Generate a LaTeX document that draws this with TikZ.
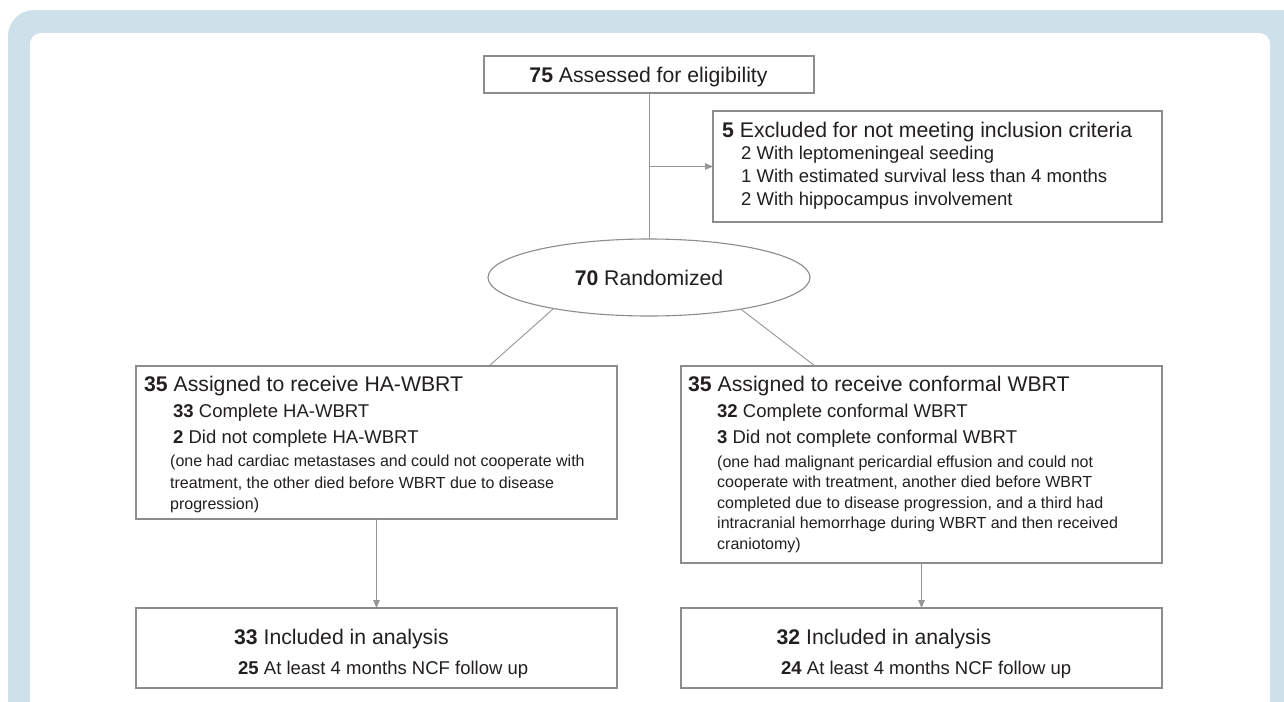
\documentclass[tikz,border=0pt]{standalone}
\usepackage{fontspec}
\setmainfont{Liberation Sans}
\usetikzlibrary{shapes.geometric,arrows.meta}
\definecolor{frameblue}{RGB}{206,224,234}
\definecolor{boxgray}{RGB}{140,140,140}
\definecolor{linegray}{RGB}{150,150,150}
\definecolor{txt}{RGB}{35,31,32}
\tikzset{
  box/.style={draw=boxgray, line width=1.1pt, inner sep=0pt, outer sep=0pt, anchor=north west},
  ttl/.style={anchor=base west, inner sep=0pt, text=txt, font=\fontsize{21.2}{25}\selectfont},
  sub/.style={anchor=base west, inner sep=0pt, text=txt, font=\fontsize{18.5}{22}\selectfont},
  note/.style={anchor=base west, inner sep=0pt, text=txt, font=\fontsize{16}{20}\selectfont},
  conn/.style={draw=linegray, line width=0.9pt},
  arr/.style={conn, -{Triangle[length=8pt,width=6.5pt]}},
}
\begin{document}
\begin{tikzpicture}[x=1pt,y=-1pt]
\useasboundingbox (0,0) rectangle (1284,701);
\clip (0,0) rectangle (1284,701);
% frame
\fill[frameblue, rounded corners=26pt] (8,10) rectangle (1320,760);
\fill[white, rounded corners=11pt] (30,33) rectangle (1270,760);

% boxes
\node[box, minimum width=330pt, minimum height=37pt] (assess) at (484,56) {};
\node[box, minimum width=449pt, minimum height=111pt] (excl) at (713,111) {};
\node[draw=boxgray, line width=1.1pt, ellipse, inner sep=0pt, outer sep=0pt,
      minimum width=322pt, minimum height=77pt, text=txt,
      font=\fontsize{21.2}{25}\selectfont] (rand) at (649,277.5) {\textbf{70} Randomized};
\node[box, minimum width=481pt, minimum height=153pt] (lbox) at (136,366) {};
\node[box, minimum width=481pt, minimum height=197pt] (rbox) at (681,366) {};
\node[box, minimum width=481pt, minimum height=80pt] (lres) at (136,608) {};
\node[box, minimum width=481pt, minimum height=80pt] (rres) at (681,608) {};

% texts
\node[ttl, anchor=base] (tassess) at (648.5,82.6) {\textbf{75} Assessed for eligibility};

\node[ttl] (tex1) at (722,137) {\textbf{5} Excluded for not meeting inclusion criteria};
\node[sub] (tex2) at (741,159.5) {2 With leptomeningeal seeding};
\node[sub] (tex3) at (741,182) {1 With estimated survival less than 4 months};
\node[sub] (tex4) at (741,205) {2 With hippocampus involvement};

\node[ttl] (tl1) at (144,391.6) {\textbf{35} Assigned to receive HA-WBRT};
\node[sub] (tl2) at (173,417.6) {\textbf{33} Complete HA-WBRT};
\node[sub] (tl3) at (173,443.6) {\textbf{2} Did not complete HA-WBRT};
\node[note] (tl4) at (170,466.7) {(one had cardiac metastases and could not cooperate with};
\node[note] (tl5) at (170,488) {treatment, the other died before WBRT due to disease};
\node[note] (tl6) at (170,509) {progression)};

\node[ttl] (tr1) at (688,391.6) {\textbf{35} Assigned to receive conformal WBRT};
\node[sub] (tr2) at (717,417.6) {\textbf{32} Complete conformal WBRT};
\node[sub] (tr3) at (717,443.3) {\textbf{3} Did not complete conformal WBRT};
\node[note] (tr4) at (717,467) {(one had malignant pericardial effusion and could not};
\node[note] (tr5) at (717,487.5) {cooperate with treatment, another died before WBRT};
\node[note] (tr6) at (717,508) {completed due to disease progression, and a third had};
\node[note] (tr7) at (717,528.5) {intracranial hemorrhage during WBRT and then received};
\node[note] (tr8) at (717,549) {craniotomy)};

\node[ttl] (tlr1) at (234,644.6) {\textbf{33} Included in analysis};
\node[sub] (tlr2) at (238,674.6) {\textbf{25} At least 4 months NCF follow up};
\node[ttl] (trr1) at (776.5,644.6) {\textbf{32} Included in analysis};
\node[sub] (trr2) at (781,674.6) {\textbf{24} At least 4 months NCF follow up};

% connectors
\coordinate (jn) at (649,166.5);
\coordinate (lt) at (489,366);
\coordinate (rt) at (815,366);
\draw[conn] (assess.south) -- (rand.north);
\draw[arr] (jn) -- (excl.west);
\draw[conn] (rand.198.25) -- (lt);
\draw[conn] (rand.341.4) -- (rt);
\draw[arr] (lbox.south) -- (lres.north);
\draw[arr] (rbox.south) -- (rres.north);
\end{tikzpicture}
\end{document}
